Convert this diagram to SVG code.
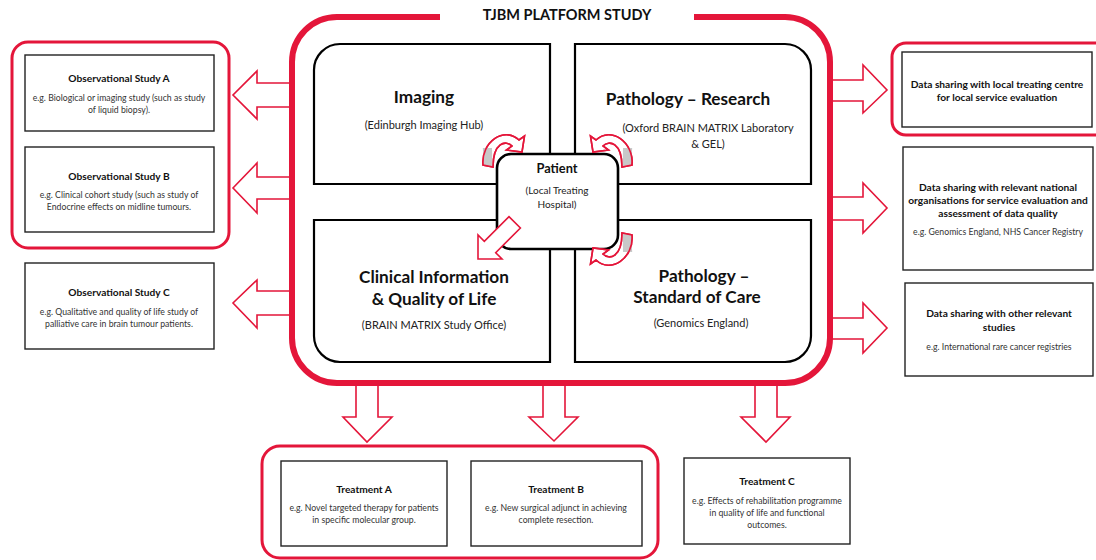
<svg xmlns="http://www.w3.org/2000/svg" xmlns:xlink="http://www.w3.org/1999/xlink" width="1096" height="560" viewBox="0 0 1096 560">
<style>
.bg{fill:#fff}
.outer{fill:none;stroke:#e4163a;stroke-width:6}
.grp{fill:none;stroke:#e4163a;stroke-width:3}
.box{fill:#fff;stroke:#222;stroke-width:1.4}
.quad{fill:#fff;stroke:#000;stroke-width:2.2}
.pat{fill:#fff;stroke:#000;stroke-width:2.6}
.arr{fill:#fff;stroke:#e4163a;stroke-width:1.6;stroke-linejoin:miter}
.arrline{fill:none;stroke:#e4163a;stroke-width:1.6}
.gray{fill:#c8c8c8}
text{font-family:Lato,"Open Sans","Liberation Sans",sans-serif;fill:#111;text-anchor:middle}
.t{font-size:10.2px;font-weight:bold}
.d{font-size:8.7px;fill:#333}
.big{font-size:17.2px;font-weight:bold}
.sub{font-size:11px;fill:#222}
.title{font-size:14.5px;font-weight:bold}
</style>
<defs>
<path id="curv" d="M483,165 C481,142 504,126 519,140 L524.5,136 L522,152 L506.5,150 L512,146 C506,140 493,142 493,167 Z"/>
</defs>
<rect class="bg" width="1096" height="560"/>

<g id="connectors">
<polygon class="arr" points="293,83 257,83 257,71 233,95 257,119 257,107 293,107"/>
<polygon class="arr" points="293,177 257,177 257,163 233,188 257,213 257,199 293,199"/>
<polygon class="arr" points="293,291 257,291 257,280 233,303 257,328 257,315 293,315"/>
<polygon class="arr" points="829,80 863,80 863,65 887,90 863,113 863,101 829,101"/>
<polygon class="arr" points="829,197 863,197 863,183 887,208 863,233 863,220 829,220"/>
<polygon class="arr" points="829,318 863,318 863,303 887,328 863,353 863,339 829,339"/>
<polygon class="arr" points="356,384 356,417 343,417 367,442 392,417 378,417 378,384"/>
<polygon class="arr" points="543,384 543,417 529,417 554,441 578,417 565,417 565,384"/>
<polygon class="arr" points="755,384 755,417 741,417 766,442 790,417 777,417 777,384"/>
</g>

<g id="platform">
<path class="outer" d="M440,17 H337 A45,45 0 0 0 292,62 V338 A45,45 0 0 0 337,383 H785 A45,45 0 0 0 830,338 V62 A45,45 0 0 0 785,17 H694"/>
<text class="title" x="567" y="20">TJBM PLATFORM STUDY</text>
</g>

<g id="imaging">
<path class="quad" d="M314,184 V70 A26,26 0 0 1 340,44 H550 V184 Z"/>
<text class="big" x="424" y="103">Imaging</text>
<text class="sub" x="424" y="129">(Edinburgh Imaging Hub)</text>
</g>

<g id="pathology-research">
<path class="quad" d="M575,44 H785 A26,26 0 0 1 811,70 V184 H575 Z"/>
<text class="big" x="688" y="105">Pathology – Research</text>
<text class="sub" x="708" y="132">(Oxford BRAIN MATRIX Laboratory</text>
<text class="sub" x="708" y="148">&amp; GEL)</text>
</g>

<g id="clinical">
<path class="quad" d="M314,220 H550 V362 H340 A26,26 0 0 1 314,336 Z"/>
<text class="big" x="434" y="283">Clinical Information</text>
<text class="big" x="434" y="305">&amp; Quality of Life</text>
<text class="sub" x="434" y="329">(BRAIN MATRIX Study Office)</text>
</g>

<g id="pathology-soc">
<path class="quad" d="M575,220 H811 V336 A26,26 0 0 1 785,362 H575 Z"/>
<text class="big" x="704" y="282">Pathology –</text>
<text class="big" x="697" y="303">Standard of Care</text>
<text class="sub" x="701" y="327">(Genomics England)</text>
</g>

<g id="patient">
<rect class="pat" x="497" y="154" width="121" height="95" rx="14"/>
<text class="t" style="font-size:12.8px" x="557" y="173">Patient</text>
<text class="sub" style="font-size:10px" x="557" y="194">(Local Treating</text>
<text class="sub" style="font-size:10px" x="557" y="208">Hospital)</text>
</g>

<g id="patient-arrows">
<g>
<use xlink:href="#curv" class="arr"/>
<polygon class="gray" points="483.8,165 482.8,148 492,148 492.3,166.5"/>
<use xlink:href="#curv" class="arrline"/>
</g>
<g transform="matrix(-1 0 0 1 1115 0)">
<use xlink:href="#curv" class="arr"/>
<polygon class="gray" points="483.8,165 482.8,148 492,148 492.3,166.5"/>
<use xlink:href="#curv" class="arrline"/>
</g>
<g transform="matrix(-1 0 0 -1 1115 400)">
<use xlink:href="#curv" class="arr"/>
<polygon class="gray" points="483.8,165 482.8,148 492,148 492.3,166.5"/>
<use xlink:href="#curv" class="arrline"/>
</g>
<polygon class="arr" points="478,259 502,259 495.7,252.7 520.4,228 509,216.6 484.3,241.3 478,235"/>
</g>

<g id="observational-group">
<rect class="grp" x="12" y="42" width="217" height="206" rx="16"/>
</g>
<g id="obs-a">
<rect class="box" x="25" y="55" width="189" height="76"/>
<text class="t" x="119" y="82">Observational Study A</text>
<text class="d" x="119" y="101">e.g. Biological or imaging study (such as study</text>
<text class="d" x="119" y="113">of liquid biopsy).</text>
</g>
<g id="obs-b">
<rect class="box" x="25" y="147" width="189" height="85"/>
<text class="t" x="119" y="180">Observational Study B</text>
<text class="d" x="119" y="198">e.g. Clinical cohort study (such as study of</text>
<text class="d" x="119" y="210">Endocrine effects on midline tumours.</text>
</g>
<g id="obs-c">
<rect class="box" x="25" y="263" width="189" height="86"/>
<text class="t" x="119" y="296">Observational Study C</text>
<text class="d" x="119" y="315">e.g. Qualitative and quality of life study of</text>
<text class="d" x="119" y="327">palliative care in brain tumour patients.</text>
</g>

<g id="local-group">
<rect class="grp" x="892" y="43" width="220" height="92" rx="14"/>
</g>
<g id="data-local">
<rect class="box" x="902" y="52" width="190" height="75"/>
<text class="t" x="997" y="88">Data sharing with local treating centre</text>
<text class="t" x="997" y="101">for local service evaluation</text>
</g>
<g id="data-national">
<rect class="box" x="903" y="147" width="190" height="123"/>
<text class="t" x="998" y="191">Data sharing with relevant national</text>
<text class="t" x="998" y="204">organisations for service evaluation and</text>
<text class="t" x="998" y="217">assessment of data quality</text>
<text class="d" x="998" y="235">e.g. Genomics England, NHS Cancer Registry</text>
</g>
<g id="data-other">
<rect class="box" x="905" y="283" width="188" height="93"/>
<text class="t" x="999" y="317">Data sharing with other relevant</text>
<text class="t" x="999" y="331">studies</text>
<text class="d" x="999" y="350">e.g. International  rare cancer registries</text>
</g>

<g id="treatment-group">
<rect class="grp" x="262" y="446" width="396" height="112" rx="18"/>
</g>
<g id="treatment-a">
<rect class="box" x="281" y="461" width="166" height="85"/>
<text class="t" x="364" y="493">Treatment A</text>
<text class="d" x="364" y="511">e.g. Novel targeted therapy for patients</text>
<text class="d" x="364" y="523">in specific molecular group.</text>
</g>
<g id="treatment-b">
<rect class="box" x="471" y="461" width="171" height="85"/>
<text class="t" x="556" y="493">Treatment B</text>
<text class="d" x="556" y="511">e.g. New surgical adjunct in achieving</text>
<text class="d" x="556" y="523">complete resection.</text>
</g>
<g id="treatment-c">
<rect class="box" x="684" y="458" width="166" height="86"/>
<text class="t" x="767" y="485">Treatment C</text>
<text class="d" x="767" y="504">e.g. Effects of rehabilitation programme</text>
<text class="d" x="767" y="516">in quality of life and functional</text>
<text class="d" x="767" y="528">outcomes.</text>
</g>
</svg>
